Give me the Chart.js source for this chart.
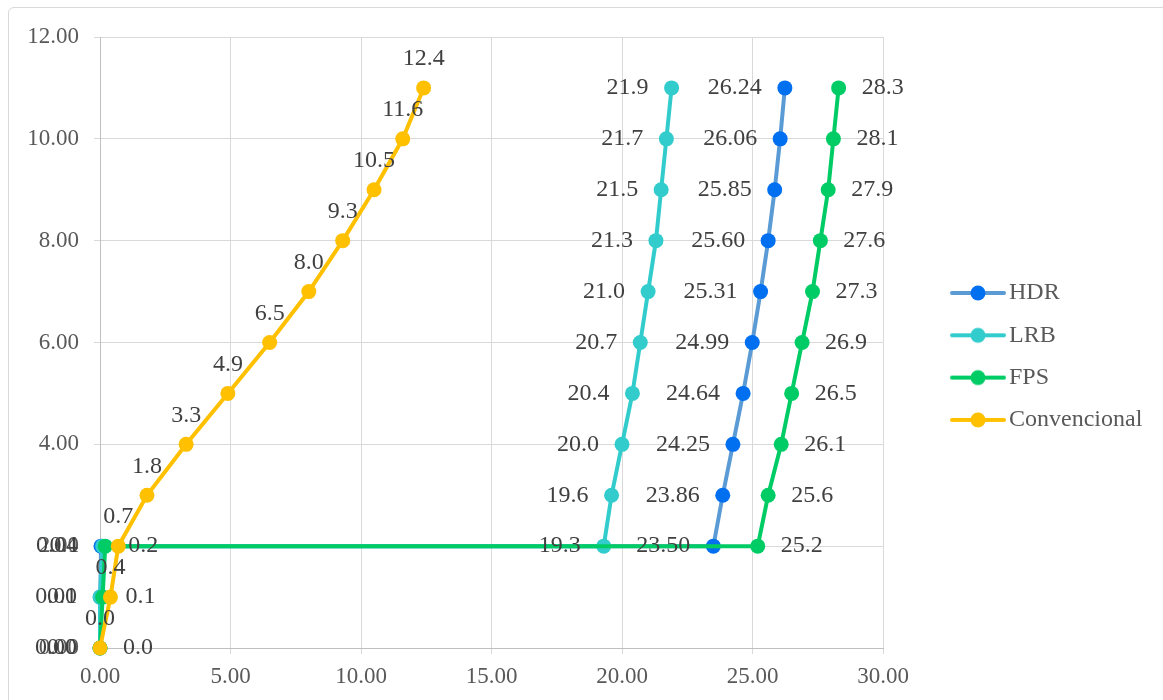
<!DOCTYPE html>
<html>
<head>
<meta charset="utf-8">
<title>Desplazamientos por nivel</title>
<script src="https://cdn.jsdelivr.net/npm/chart.js@4.4.1/dist/chart.umd.min.js"></script>
<style>
    html, body { margin: 0; padding: 0; background: #fff; overflow: hidden; }
    #wrap { position: relative; width: 1163px; height: 700px; overflow: hidden; }
    #frame { position: absolute; left: 8px; top: 7px; width: 1200px; height: 750px;
             border: 1.5px solid #d9d9d9; border-radius: 6px; }
    #box { position: absolute; left: 0; top: 0; width: 1163px; height: 700px; }
</style>
</head>
<body>
<div id="wrap">
    <div id="frame"></div>
    <div id="box"><canvas id="chart"></canvas></div>
</div>
<script>
// 1. Data (x = displacement, y = level)
const levelsIsolated = [0, 1, 2, 2, 3, 4, 5, 6, 7, 8, 9, 10, 11];
const levelsFixed = [0, 1, 2, 3, 4, 5, 6, 7, 8, 9, 10, 11];

const hdrValues  = [0.00, 0.01, 0.04, 23.50, 23.86, 24.25, 24.64, 24.99, 25.31, 25.60, 25.85, 26.06, 26.24];
const lrbValues  = [0.0, 0.0, 0.1, 19.3, 19.6, 20.0, 20.4, 20.7, 21.0, 21.3, 21.5, 21.7, 21.9];
const fpsValues  = [0.0, 0.1, 0.2, 25.2, 25.6, 26.1, 26.5, 26.9, 27.3, 27.6, 27.9, 28.1, 28.3];
const convValues = [0.0, 0.4, 0.7, 1.8, 3.3, 4.9, 6.5, 8.0, 9.3, 10.5, 11.6, 12.4];

const seriesNames = ['HDR', 'LRB', 'FPS', 'Convencional'];
const xTicks = [0, 5, 10, 15, 20, 25, 30];
const yTicks = [0, 2, 4, 6, 8, 10, 12];

// 2. Look
const lineColors = ['#5b9bd5', '#33cccc', '#00cc66', '#ffc000'];
const dotColors  = ['#0070f0', '#33cccc', '#00cc66', '#ffc000'];
const FONT = '"Liberation Serif", "Times New Roman", serif';

// label placement per series: side and decimals
const labelSpots = [
    { side: 'left',  gap: 23, digits: 2 },
    { side: 'left',  gap: 23, digits: 1 },
    { side: 'right', gap: 23, digits: 1 },
    { side: 'above', gap: 29, digits: 1 }
];

function toPoints(xs, ys) {
    return xs.map((v, i) => ({ x: v, y: ys[i] }));
}

// legend marker: short line with a dot on it
function legendMark(lineColor, dotColor) {
    const c = document.createElement('canvas');
    c.width = 56; c.height = 18;
    const g = c.getContext('2d');
    g.strokeStyle = lineColor;
    g.lineWidth = 4;
    g.lineCap = 'round';
    g.beginPath(); g.moveTo(2, 9); g.lineTo(54, 9); g.stroke();
    g.fillStyle = dotColor;
    g.beginPath(); g.arc(28, 9, 7.5, 0, Math.PI * 2); g.fill();
    return c;
}
const marks = seriesNames.map((n, i) => legendMark(lineColors[i], dotColors[i]));

// 3. Value labels next to each point
const valueLabels = {
    id: 'valueLabels',
    afterDatasetsDraw(chart) {
        const ctx = chart.ctx;
        ctx.save();
        ctx.font = '24px ' + FONT;
        ctx.fillStyle = '#404040';
        ctx.textBaseline = 'middle';
        chart.data.datasets.forEach((ds, i) => {
            const spot = labelSpots[i];
            chart.getDatasetMeta(i).data.forEach((pt, j) => {
                const txt = ds.data[j].x.toFixed(spot.digits);
                if (spot.side === 'left') {
                    ctx.textAlign = 'right';
                    ctx.fillText(txt, pt.x - spot.gap, pt.y);
                } else if (spot.side === 'right') {
                    ctx.textAlign = 'left';
                    ctx.fillText(txt, pt.x + spot.gap, pt.y);
                } else {
                    ctx.textAlign = 'center';
                    ctx.fillText(txt, pt.x, pt.y - spot.gap);
                }
            });
        });
        ctx.restore();
    }
};

// 4. Legend at the right, line + dot like the spreadsheet one
const sideLegend = {
    id: 'sideLegend',
    afterDraw(chart) {
        const { ctx, chartArea } = chart;
        const x0 = chartArea.right + 67;
        const y0 = (chartArea.top + chartArea.bottom) / 2 - 49.5;
        ctx.save();
        ctx.font = '24px ' + FONT;
        ctx.fillStyle = '#595959';
        ctx.textAlign = 'left';
        ctx.textBaseline = 'middle';
        seriesNames.forEach((name, i) => {
            const y = y0 + i * 42.3;
            ctx.drawImage(marks[i], x0, y - 9);
            ctx.fillText(name, x0 + 59, y);
        });
        ctx.restore();
    }
};

const allValues = [hdrValues, lrbValues, fpsValues, convValues];
const allLevels = [levelsIsolated, levelsIsolated, levelsIsolated, levelsFixed];

const datasets = seriesNames.map((name, i) => ({
    label: name,
    data: toPoints(allValues[i], allLevels[i]),
    showLine: true,
    borderColor: lineColors[i],
    backgroundColor: dotColors[i],
    borderWidth: 4,
    pointRadius: 7.5,
    pointBorderWidth: 0,
    pointBackgroundColor: dotColors[i],
    pointBorderColor: dotColors[i],
    order: 4 - i,
    clip: false
}));

const gridColor = '#d9d9d9';
const tickFont = { family: FONT, size: 23 };

new Chart(document.getElementById('chart'), {
    type: 'scatter',
    data: { datasets: datasets },
    options: {
        responsive: true,
        maintainAspectRatio: false,
        animation: false,
        layout: { padding: { left: 0, top: 37, right: 280, bottom: 0 } },
        plugins: {
            tooltip: { enabled: false },
            legend: { display: false }
        },
        scales: {
            x: {
                type: 'linear',
                min: 0, max: 30,
                afterBuildTicks: s => { s.ticks = xTicks.map(v => ({ value: v })); },
                afterFit: s => { s.height = 52; },
                grid: { color: gridColor, tickLength: 6, tickColor: gridColor },
                border: { color: '#bfbfbf', width: 1 },
                ticks: { color: '#595959', font: tickFont, padding: 9, maxRotation: 0,
                         callback: v => v.toFixed(2) }
            },
            y: {
                type: 'linear',
                min: 0, max: 12,
                afterBuildTicks: s => { s.ticks = yTicks.map(v => ({ value: v })); },
                afterFit: s => { s.width = 100; },
                grid: { color: gridColor, tickLength: 6, tickColor: gridColor },
                border: { color: '#bfbfbf', width: 1 },
                ticks: { color: '#595959', font: tickFont, padding: 15,
                         callback: v => v.toFixed(2) }
            }
        }
    },
    plugins: [valueLabels, sideLegend]
});
</script>
</body>
</html>
